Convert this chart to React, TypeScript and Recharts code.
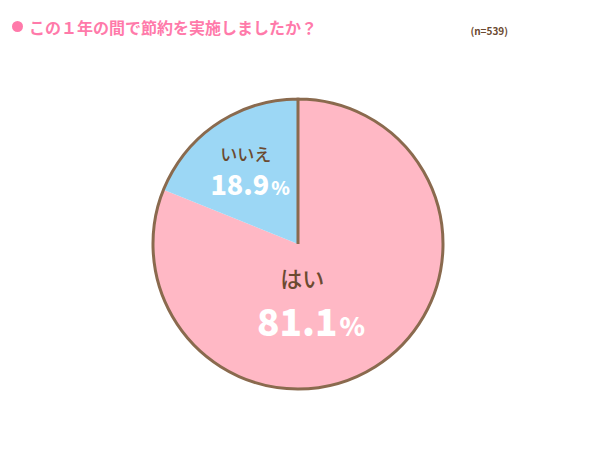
import { PieChart, Pie, Cell } from "recharts";

const TITLE = "この１年の間で節約を実施しましたか？";
const SAMPLE = "(n=539)";
const answers = ["はい", "いいえ"];
const shares = [81.1, 18.9];
const FILLS = ["#FFB8C5", "#9CD7F5"];
const BORDER = "#8A6A4E";

// label placement relative to pie centre, as fraction of radius
const LABEL_SPOTS = [
  { name: [0.03, 0.225], pct: [0.09, 0.635], nameSize: 22, pctSize: 37 },
  { name: [-0.36, -0.625], pct: [-0.33, -0.34], nameSize: 17, pctSize: 27 },
];

const data = answers.map((name, i) => ({ name, value: shares[i] }));
const ring = [{ name: "ring", value: 1 }];

const FONT = '"Noto Sans CJK JP", "Noto Sans", sans-serif';

function renderLabel(props: any) {
  const { cx, cy, outerRadius, index } = props;
  const s = LABEL_SPOTS[index];
  const r = outerRadius;
  return (
    <g key={index} style={{ fontFamily: FONT }}>
      <text
        x={cx + s.name[0] * r}
        y={cy + s.name[1] * r}
        textAnchor="middle"
        dominantBaseline="central"
        fill="#6B4A30"
        fontSize={s.nameSize}
        fontWeight={500}
      >
        {answers[index]}
      </text>
      <text
        x={cx + s.pct[0] * r}
        y={cy + s.pct[1] * r}
        textAnchor="middle"
        fill="#FFFFFF"
        fontSize={s.pctSize}
        fontWeight={900}
      >
        {shares[index].toFixed(1)}
        <tspan fontSize={s.pctSize * 0.7} dx={2}>%</tspan>
      </text>
    </g>
  );
}

export default function App() {
  return (
    <div style={{ position: "absolute", left: 0, top: 0, width: 600, height: 451, background: "#fff" }}>
      <div style={{ position: "absolute", left: 12, top: 21, width: 11, height: 11, borderRadius: "50%", background: "#FF7AAA" }} />
      <div
        style={{
          position: "absolute",
          left: 29,
          top: 14,
          fontFamily: FONT,
          fontSize: 16,
          fontWeight: 700,
          color: "#FF7AAA",
          lineHeight: "26px",
          whiteSpace: "nowrap",
        }}
      >
        {TITLE}
      </div>
      <div
        style={{
          position: "absolute",
          right: 92,
          top: 23,
          fontFamily: FONT,
          fontSize: 10,
          fontWeight: 700,
          color: "#6B4A30",
          lineHeight: "16px",
        }}
      >
        {SAMPLE}
      </div>
      <div style={{ position: "absolute", left: 0, top: 0 }}>
        <PieChart width={600} height={451} margin={{ top: 0, right: 0, bottom: 0, left: 0 }}>
          <Pie
            data={data}
            dataKey="value"
            nameKey="name"
            cx={298}
            cy={244}
            outerRadius={145}
            startAngle={90}
            endAngle={-270}
            stroke="none"
            labelLine={false}
            label={renderLabel}
            isAnimationActive={false}
          >
            {data.map((_, i) => (
              <Cell key={i} fill={FILLS[i]} stroke="none" />
            ))}
          </Pie>
          <Pie
            data={ring}
            dataKey="value"
            cx={298}
            cy={244}
            outerRadius={145}
            startAngle={90}
            endAngle={-270}
            fill="none"
            stroke={BORDER}
            strokeWidth={3}
            isAnimationActive={false}
          />
        </PieChart>
      </div>
    </div>
  );
}
